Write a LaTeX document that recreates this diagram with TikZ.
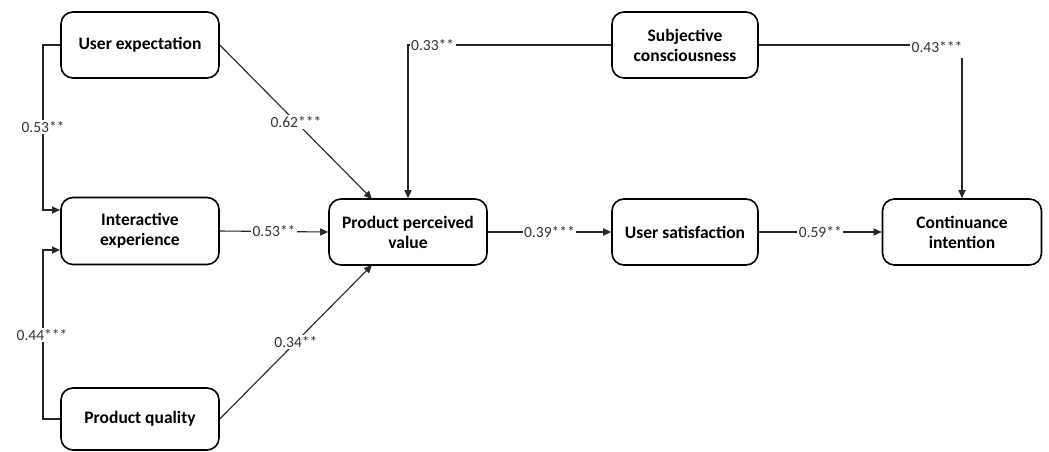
\documentclass[tikz,border=0pt]{standalone}
\usepackage{fontspec}
\setmainfont{Carlito}
\usetikzlibrary{arrows.meta}
\begin{document}
\begin{tikzpicture}[x=1pt,y=-1pt,
  box/.style={draw=black, line width=1.6pt, rounded corners=12pt, align=center,
    font=\fontsize{17.5}{20}\selectfont\bfseries, inner sep=2pt},
  conn/.style={line width=1.1pt, draw=black!85},
  arr/.style={conn, -{Triangle[length=8pt,width=7pt]}},
  lab/.style={fill=white, inner sep=1.5pt, text=black!80, font=\fontsize{15.5}{17}\selectfont}]
\useasboundingbox (0,0) rectangle (1049,452);
% nodes
\node[box, minimum width=158pt, minimum height=66pt] (ue) at (140,45) {User expectation};
\node[box, minimum width=158pt, minimum height=67pt] (ie) at (140,231) {Interactive\\experience};
\node[box, minimum width=158pt, minimum height=62pt] (pq) at (140,419) {Product quality};
\node[box, minimum width=158pt, minimum height=66pt] (ppv) at (408,232) {Product perceived\\value};
\node[box, minimum width=146pt, minimum height=66pt] (sc) at (685,45) {Subjective\\consciousness};
\node[box, minimum width=146pt, minimum height=66pt] (us) at (685,232) {User satisfaction};
\node[box, minimum width=159pt, minimum height=66pt] (ci) at (962,232) {Continuance\\intention};
% corner coordinates
\coordinate (c1) at (43,45);
\coordinate (c2) at (43,419);
\coordinate (c3) at (408,45);
\coordinate (c4) at (962,45);
\coordinate (ie1) at (60,210);
\coordinate (ie2) at (60,250);
\coordinate (pt1) at (372,199);
\coordinate (pb1) at (372,265);
% connectors
\draw[arr] (ue.west) -- (c1) |- (ie1);
\draw[arr] (pq.west) -- (c2) |- (ie2);
\draw[arr] (ue.east) -- node[lab, pos=0.5] {0.62***} (pt1);
\draw[arr] (pq.east) -- node[lab, pos=0.5] {0.34**} (pb1);
\draw[arr] (ie.east) -- node[lab] {0.53**} (ppv.west);
\draw[arr] (ppv.east) -- node[lab] {0.39***} (us.west);
\draw[arr] (us.east) -- node[lab] {0.59**} (ci.west);
\draw[arr] (sc.west) -- (c3) -- (ppv.north);
\draw[arr] (sc.east) -- (c4) -- (ci.north);
% labels on vertical lines / corners
\node[lab] (l1) at (43,127) {0.53**};
\node[lab] (l2) at (42,335) {0.44***};
\node[lab, anchor=west] (l3) at (409.5,45) {0.33**};
\node[lab, anchor=east, inner ysep=5pt] (l4) at (964,47) {0.43***};
\end{tikzpicture}
\end{document}
